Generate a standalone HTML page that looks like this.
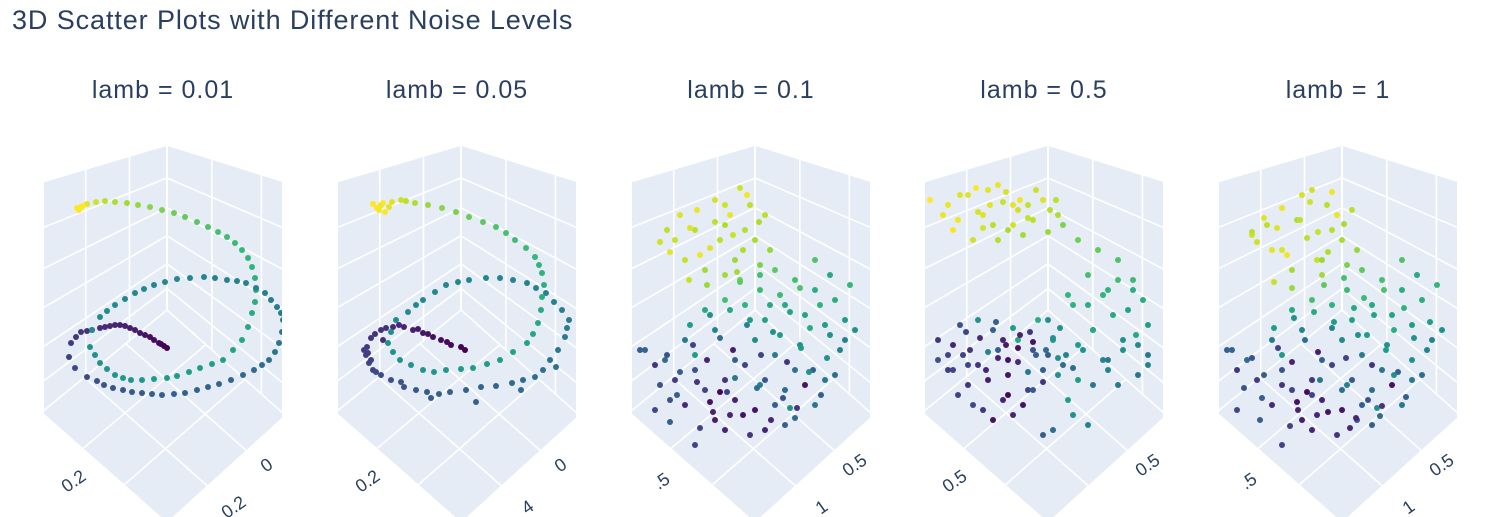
<!DOCTYPE html>
<html><head><meta charset="utf-8"><style>
html,body{margin:0;padding:0;background:#fff;}
svg{display:block;font-family:"Liberation Sans",sans-serif;}
</style></head><body>
<svg id="fig" width="1511" height="517" viewBox="0 0 1511 517">
<text x="12" y="29" font-size="27" letter-spacing="0.9" fill="#2a3f5f">3D Scatter Plots with Different Noise Levels</text>
<g id="panels"></g>
</svg>
<script>
const titles = ["lamb = 0.01","lamb = 0.05","lamb = 0.1","lamb = 0.5","lamb = 1"];
const tickLeft = ["0.2","0.2",".5","0.5",".5"];
const tickRight = ["0","0","0.5","0.5","0.5"];
const tickBottom = ["0.2","4","1","","1"];

// panel 1
const p1u = [0,-3,-6,-13,-17,-22,-32,-37,-42,-52,-57,-62,-75,-80,-86,-96,-98,-92,-80,-63,-44,-25,-5,18,41,64,87,102,112,116,110,98,79,60,37,10,-13,-32,-52,-67,-75,-77,-67,-52,-36,-13,10,33,56,75,85,89,85,75,60,41,18,-5,-29,-52,-71,-80,-86,-90,-84,-88];
const p1h = [52,54,56,60,63,65,70,72,74,75,74,73,70,69,68,57,43,32,23,15,10,7,5,7,13,20,30,40,57,80,93,107,117,120,123,121,115,107,95,83,70,53,37,25,20,21,24,32,40,60,87,110,133,150,163,173,183,190,195,198,198,196,193,192,194,190];
const p1c = [0,.005,.01,.03,.04,.05,.07,.08,.09,.10,.11,.12,.14,.145,.15,.17,.19,.21,.23,.25,.27,.29,.30,.31,.32,.33,.35,.37,.39,.41,.42,.43,.44,.45,.455,.46,.465,.47,.475,.48,.49,.50,.51,.52,.53,.54,.55,.56,.57,.59,.61,.63,.65,.67,.69,.72,.76,.80,.84,.88,.93,.96,.98,1,1,1];
const p1uX = [-70,-54,-35,-15,7,30,52,76,95,108,115,114,104,89,70,48,23,-2,-23,-42,-60,-72,-60,-44,-25,0,22,45,66,81,88,88,81,68,51,30,7,-17,-40,-62,-8,-27,-47,-67,-91];
const p1hX = [19,12,8,6,6,10,16,25,35,48,68,87,100,112,119,122,122,118,111,101,89,45,31,22,20,22,28,36,50,73,98,122,142,157,168,178,187,193,197,199,57,67,75,72,63];
const p1cX = [.24,.26,.28,.30,.305,.315,.325,.34,.36,.38,.40,.415,.425,.435,.445,.45,.457,.462,.468,.472,.478,.505,.515,.525,.535,.545,.555,.565,.58,.60,.62,.64,.66,.68,.705,.74,.78,.82,.86,.90,.02,.06,.095,.13,.16];

// panel 2
const p2u = [4,-10,-20,-28,-38,-48,-57,-68,-80,-90,-94,-95,-92,-88,-80,-70,-60,-57,-34,-11,20,51,74,89,104,108,101,85,66,39,8,-15,-38,-53,-65,-73,-61,-38,-15,12,39,66,77,81,81,74,54,35,8,-19,-46,-60,-69,-80,-76,-84,-88];
const p2h = [50,55,60,63,67,70,73,73,70,62,53,45,37,30,25,20,18,13,8,8,13,17,23,40,63,80,90,107,117,122,120,115,100,88,80,57,40,30,30,32,40,57,77,103,127,143,160,173,183,192,197,200,198,195,188,192,196];
const p2c = [0,.02,.03,.04,.06,.08,.10,.12,.14,.15,.17,.18,.20,.21,.23,.245,.25,.26,.29,.30,.32,.34,.37,.39,.41,.42,.43,.44,.45,.455,.46,.465,.47,.475,.48,.50,.51,.52,.53,.545,.56,.575,.595,.62,.64,.665,.69,.72,.77,.82,.88,.92,.95,.97,1,1,1];
const p2uX = [0,-14,-33,-43,-62,-75,-86,-97,-90,-85,-93,-78,-45,-22,5,35,62,82,97,106,93,75,52,25,-3,-26,-45,-70,-68,-50,-27,0,26,52,72,80,83,78,65,45,22,-5,-33,-55,-72,-82,-78,60,-30,95,15];
const p2hX = [53,58,66,71,75,72,66,50,40,28,47,60,10,6,10,14,20,30,50,72,98,112,120,122,118,108,95,68,48,35,28,31,36,48,66,90,115,135,152,167,178,188,195,199,193,190,197,10,2,33,-2];
const p2cX = [.01,.025,.05,.07,.11,.13,.145,.175,.19,.22,.18,.135,.275,.295,.31,.33,.355,.38,.40,.415,.435,.447,.452,.457,.462,.468,.473,.49,.505,.515,.525,.54,.553,.57,.585,.61,.63,.655,.68,.705,.745,.795,.85,.9,.96,.99,1,.35,.29,.385,.31];

// panel 3
const p3u = [-80,-60,-45,-30,-15,-5,-25,-70,-85,-50,-20,0,10,-40,-10,15,-55,-35,-95,-30,-65,5,20,40,60,80,95,30,5,-10,50,70,100,-30,25,45,85,-50,10,60,-15,75,-70,-90,-40,0,20,40,70,90,-20,-60,-110,30,60,-30,-50,-20,0,10,-70,-40,20,-10,-80,-100,-30,50,30,-60,-5,-45,-85,-115,-25,35,80,-60,5,-35];
const p3h = [160,170,152,175,212,195,185,140,148,130,140,160,185,200,170,150,145,160,158,125,172,135,130,120,140,100,115,95,110,95,85,75,70,100,65,55,50,90,80,110,120,125,60,40,70,60,45,30,20,60,40,30,50,10,-5,20,10,0,-10,20,-5,-20,-5,35,20,-10,-30,15,-25,45,-35,-2,0,50,-15,-8,25,-45,15,8];
const p3c = [.92,.9,.95,.88,.93,.9,.97,.91,.96,.86,.85,.87,.9,.94,.89,.84,.98,.9,.93,.86,.95,.8,.75,.7,.72,.62,.66,.6,.68,.65,.58,.55,.5,.7,.55,.5,.45,.6,.57,.62,.78,.6,.4,.35,.45,.48,.42,.38,.4,.45,.3,.25,.32,.35,.4,.15,.2,.1,.05,.28,.12,.08,.3,.2,.18,.22,.1,.05,.3,.55,.15,.05,.25,.3,.1,.5,.35,.2,.45,.02];
const p3uX = [-100,-88,-75,-62,-48,-35,-22,-8,6,18,32,46,58,72,-95,-78,-58,-42,-28,-12,2,16,28,42,54,66,-65,-45,-25,-5,15,35,55,75,90,-15,5,25,45,65,-85,-55,-20,10,40,-75,-58,-40,-22,-8,-88,-48,-30,-12,4,-66,-18];
const p3hX = [35,45,28,55,40,62,50,75,45,68,38,52,30,42,15,5,18,-12,8,-15,12,-20,2,-8,28,5,75,85,90,80,95,88,72,65,80,118,125,105,112,95,-22,-28,22,-30,-18,185,190,178,165,205,170,115,195,150,178,120,128];
const p3cX = [.15,.25,.3,.2,.1,.35,.08,.45,.2,.5,.15,.55,.3,.5,.25,.3,.15,.1,.2,.05,.35,.1,.25,.15,.5,.3,.55,.5,.6,.55,.6,.58,.62,.5,.55,.75,.7,.68,.72,.65,.3,.2,.4,.1,.35,.95,.97,.9,.92,.98,.9,.85,.93,.88,.87,.92,.86];

// panel 4
const p4u = [-118,-100,-80,-60,-45,-30,-15,-5,10,-90,-70,-55,-40,-20,0,-75,-35,-50,-25,-65,15,30,50,70,85,95,60,40,20,80,100,65,45,25,90,75,-10,5,55,35,-85,-100,-70,-50,-30,-15,0,15,-60,-40,-20,-80,-110,30,45,60,-45,-25,-5,10,-90,-65,-35,20,-55,-15,5,-75,40,70,90,-50,-30,100,-95,-5,25,-40];
const p4h = [200,195,205,210,198,190,180,200,185,180,188,175,170,182,168,160,195,160,165,172,175,160,150,140,120,100,110,125,105,90,75,85,70,95,55,60,80,60,40,50,45,30,35,42,38,50,45,35,20,25,10,15,40,20,15,30,0,-5,30,25,5,-10,-15,0,-20,10,-30,-5,-25,15,25,50,60,45,30,-35,-15,5];
const p4c = [1,.97,.95,.96,.92,.93,.9,.95,.88,.98,.94,.9,.87,.91,.85,.93,.96,.89,.86,.94,.8,.78,.76,.72,.68,.62,.65,.7,.66,.58,.55,.6,.52,.64,.48,.5,.62,.55,.45,.5,.2,.18,.15,.1,.12,.25,.3,.35,.08,.05,.2,.15,.25,.55,.4,.45,.1,.05,.3,.5,.2,.15,.1,.55,.05,.28,.35,.22,.45,.4,.38,.3,.6,.4,.2,.3,.5,.02];
const p4uX = [-110,-95,-82,-68,-55,-42,-28,-15,-2,12,-100,-78,-60,-45,-30,-12,5,-88,-70,-52,-35,-18,0,18,30,45,60,75,88,100,40,55,70,85,-80,-62,-40,-20,-5,10,25,-105,-88,-72,-58,-42,-28,-12,2,-95,-65,-35,-50,-20,8];
const p4hX = [60,55,68,62,70,55,65,58,50,72,45,50,48,60,52,45,62,75,80,78,72,68,80,45,55,70,40,50,65,35,95,105,120,110,35,30,40,28,18,42,32,185,205,212,195,208,200,210,190,170,185,175,215,195,200];
const p4cX = [.15,.1,.2,.12,.3,.08,.1,.05,.35,.5,.2,.15,.45,.1,.05,.3,.5,.25,.5,.3,.55,.15,.5,.45,.55,.6,.4,.5,.6,.45,.62,.65,.7,.62,.2,.1,.05,.4,.15,.5,.35,.97,.95,1,.96,.94,.98,.92,.9,.99,.95,.93,.97,.91,.9];

// panel 5
const p5u = [-90,-75,-60,-45,-30,-15,-5,-25,-70,-50,-20,0,10,-40,-10,15,-55,-35,-85,-65,5,20,40,60,80,95,30,5,-10,50,70,100,-30,25,45,85,-50,10,60,75,-70,-95,-40,0,20,40,70,90,-20,-60,-110,30,60,-30,-50,-20,0,10,-70,-40,20,-10,-85,-105,-30,50,30,-60,-5,-45,-115,-25,35,80,-60,5,-35,15];
const p5h = [165,175,150,180,210,195,185,140,150,130,140,160,190,205,170,150,145,162,158,172,135,130,120,140,100,115,95,110,95,85,75,70,100,65,55,50,90,80,110,125,60,40,70,60,45,30,20,60,40,30,50,10,-5,20,10,0,-10,20,-5,-20,-5,35,20,-10,-30,15,-25,45,-35,-2,50,-15,-8,25,-45,15,8,-20];
const p5c = [.93,.9,.95,.88,.93,.9,.97,.91,.96,.86,.85,.87,.9,.94,.89,.84,.98,.9,.93,.95,.8,.75,.7,.72,.62,.66,.6,.68,.65,.58,.55,.5,.7,.55,.5,.45,.6,.57,.62,.6,.4,.35,.45,.48,.42,.38,.4,.45,.3,.25,.32,.35,.4,.15,.2,.1,.05,.28,.12,.08,.3,.2,.18,.22,.1,.05,.3,.55,.15,.05,.3,.1,.5,.35,.2,.45,.02,.25];
const p5uX = [-105,-90,-78,-64,-50,-37,-24,-10,4,16,30,44,56,70,-98,-80,-60,-44,-30,-14,0,14,26,40,52,64,-68,-48,-28,-8,12,32,52,72,88,-18,2,22,42,62,-82,-52,-22,8,38,-78,-60,-42,-24,-10,-90,-50,-32,-14,2,-68,-20];
const p5hX = [30,42,25,52,38,60,48,72,42,65,35,50,28,40,12,2,15,-10,5,-12,10,-18,0,-6,25,3,72,82,88,78,92,85,70,62,78,115,122,102,110,92,-20,-26,20,-28,-16,182,192,180,168,208,168,112,198,148,176,118,125];
const p5cX = [.15,.25,.3,.2,.1,.35,.08,.45,.2,.5,.15,.55,.3,.5,.25,.3,.15,.1,.2,.05,.35,.1,.25,.15,.5,.3,.55,.5,.6,.55,.6,.58,.62,.5,.55,.75,.7,.68,.72,.65,.3,.2,.4,.1,.35,.95,.97,.9,.92,.98,.9,.85,.93,.88,.87,.92,.86];

const U=[p1u.concat(p1uX),p2u.concat(p2uX),p3u.concat(p3uX),p4u.concat(p4uX),p5u.concat(p5uX)];
const H=[p1h.concat(p1hX),p2h.concat(p2hX),p3h.concat(p3hX),p4h.concat(p4hX),p5h.concat(p5hX)];
const C=[p1c.concat(p1cX),p2c.concat(p2cX),p3c.concat(p3cX),p4c.concat(p4cX),p5c.concat(p5cX)];
const lefts=[44,338,632,925,1219];
const PW=238;
const NS="http://www.w3.org/2000/svg";
const viridis=["#440154","#482878","#3e4a89","#31688e","#26828e","#1f9e89","#35b779","#6ece58","#b5de2b","#fde725"];
function hex(h){return [1,3,5].map(i=>parseInt(h.substr(i,2),16));}
function colorScale(t){t=Math.max(0,Math.min(1,t));const f=t*9,i=Math.min(8,Math.floor(f)),r=f-i;const a=hex(viridis[i]),b=hex(viridis[i+1]);return "rgb("+a.map((v,k)=>Math.round(v+(b[k]-v)*r)).join(",")+")";}
function mk(tag,attrs,parent){const e=document.createElementNS(NS,tag);for(const k in attrs)e.setAttribute(k,attrs[k]);parent.appendChild(e);return e;}
function lerp(a,b,t){return [a[0]+(b[0]-a[0])*t,a[1]+(b[1]-a[1])*t];}
const root=document.getElementById('panels');
const defs=mk('defs',{},root);
for(let p=0;p<5;p++){
  const L=lefts[p], cx=L+123;
  const xScale=u=>cx+u, yScale=h=>400-h;
  const cp=mk('clipPath',{id:'clip'+p},defs);
  mk('rect',{x:L,y:0,width:PW,height:517},cp);
  const t=mk('text',{x:cx-4,y:98,'font-size':25,'letter-spacing':'1',fill:'#2a3f5f','text-anchor':'middle'},root);
  t.textContent=titles[p];
  
  
  const g=mk('g',{'clip-path':'url(#clip'+p+')'},root);
  
  
  const T=[cx,145],B=[cx,310],TL=[cx-125,182],BL=[cx-125,412],TR=[cx+118,182],BR=[cx+118,415],F=[cx,522];
  mk('polygon',{points:[T,TR,BR,F,BL,TL].map(q=>q.join(',')).join(' '),fill:'#e5ecf6'},g);
  const ln=(a,b,w)=>mk('line',{x1:a[0],y1:a[1],x2:b[0],y2:b[1],stroke:'#fff','stroke-width':w||1.6},g);
  [0,.2,.38,.55,.72,.87,1].forEach(f=>{ln(lerp(T,B,f),lerp(TL,BL,f));ln(lerp(T,B,f),lerp(TR,BR,f));});
  [.3,.65].forEach(f=>{ln(lerp(T,TL,f),lerp(B,BL,f));});
  [.38,.8].forEach(f=>{ln(lerp(T,TR,f),lerp(B,BR,f));});
  [.33,.66].forEach(f=>{ln(lerp(B,BL,f),lerp(BR,F,f));ln(lerp(B,BR,f),lerp(BL,F,f));});
  ln(T,B,2);
  const u=U[p],h=H[p],c=C[p];
  for(let i=0;i<u.length;i++){
    const d=mk('circle',{cx:xScale(u[i]),cy:yScale(h[i]),r:3,fill:colorScale(c[i])},g);
    
    
  }
  const tk=(txt,x,y,nm)=>{if(!txt)return;const e=mk('text',{x:x,y:y,'font-size':18,fill:'#2a3f5f','text-anchor':'middle',transform:'rotate(-35 '+x+' '+y+')'},g);e.textContent=txt;
    
    };
  tk(tickLeft[p],cx-90,486,'tick-label-x');
  tk(tickRight[p],cx+103,470,'tick-label-y');
  tk(tickBottom[p],cx+70,512,'tick-label-y2');
}
</script>
</body></html>
